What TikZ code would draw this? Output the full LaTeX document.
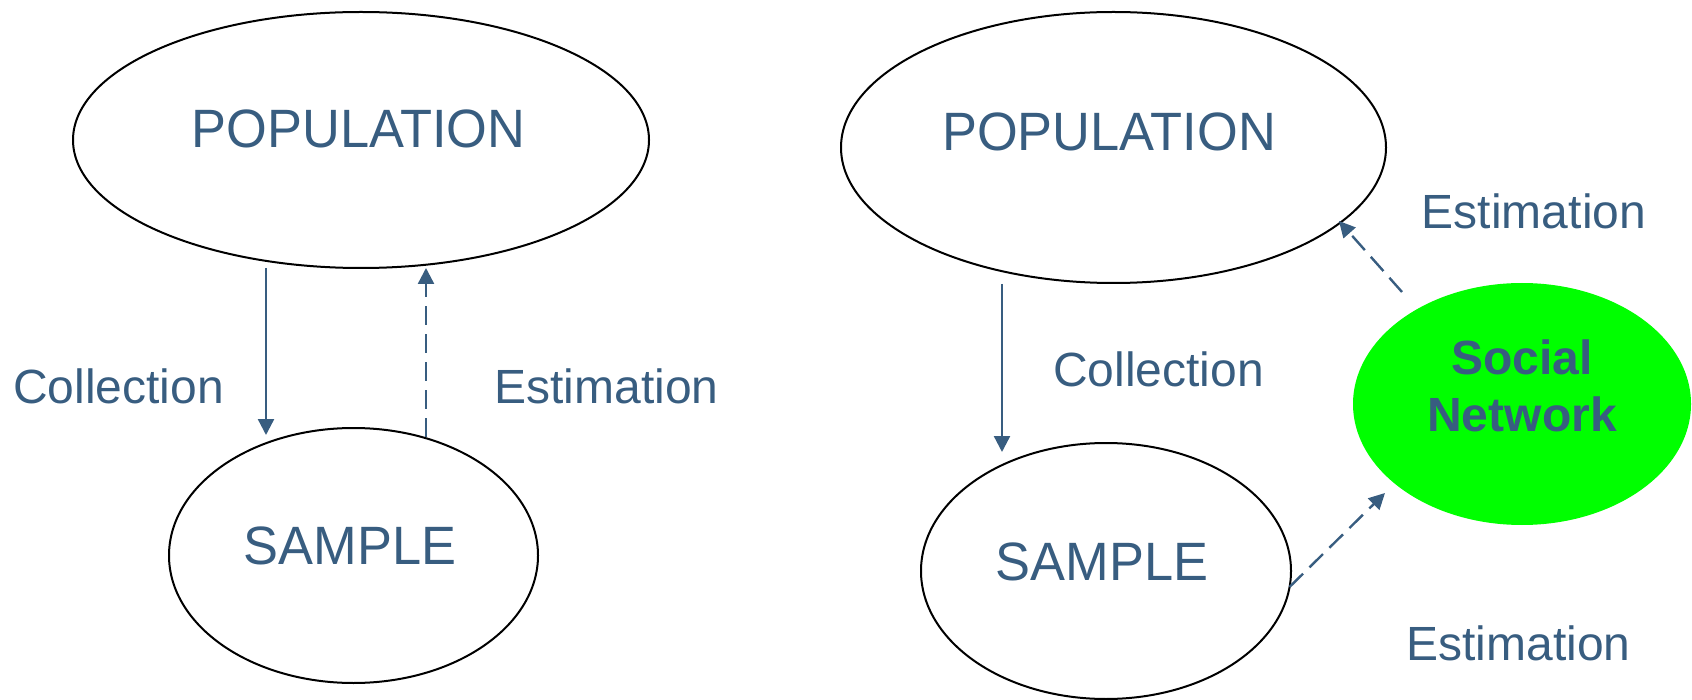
\documentclass[tikz,border=0pt]{standalone}
\usepackage{fontspec}
\setmainfont{Liberation Sans}
\newfontfamily\bigfont{Liberation Sans}[FakeStretch=0.97]
\usetikzlibrary{shapes.geometric,arrows.meta,calc}
\definecolor{tc}{RGB}{56,93,128}
\definecolor{netgreen}{RGB}{0,255,0}
\tikzset{
  oval/.style={draw=black, line width=2pt, ellipse, inner sep=0pt},
  greenoval/.style={fill=netgreen, draw=none, ellipse, inner sep=0pt},
  lbl/.style={text=tc, font=\fontsize{48}{57}\selectfont, inner sep=0pt, anchor=base},
  biglbl/.style={text=tc, font=\bigfont\fontsize{54}{60}\selectfont, inner sep=0pt, anchor=base},
  arr/.style={draw=tc, line width=2.4pt, -{Triangle[length=16pt,width=16pt]}},
  dasharr/.style={arr, dash pattern=on 19pt off 9pt}
}
\begin{document}
\begin{tikzpicture}[x=1pt,y=-1pt]
\useasboundingbox (0,0) rectangle (1692,700);
% ellipses
\node[oval, minimum width=576pt, minimum height=256pt] (popL) at (361,140) {};
\node[oval, minimum width=369pt, minimum height=255pt] (sampL) at (353.5,555.5) {};
\node[oval, minimum width=545pt, minimum height=271pt] (popR) at (1113.5,147.5) {};
\node[oval, minimum width=370pt, minimum height=256pt] (sampR) at (1106,571) {};
\node[greenoval, minimum width=338pt, minimum height=242pt] (soc) at (1522,404) {};
% texts
\node[biglbl] (tPopL) at (358.5,148) {POPULATION};
\node[biglbl] (tSampL) at (350,564) {SAMPLE};
\node[biglbl] (tPopR) at (1109,151) {POPULATION};
\node[biglbl] (tSampR) at (1102,580) {SAMPLE};
\node[lbl] (tColL) at (118.5,403) {Collection};
\node[lbl] (tEstL) at (606.5,403) {Estimation};
\node[lbl] (tColR) at (1158.5,387) {Collection};
\node[lbl] (tEstR1) at (1534,229) {Estimation};
\node[lbl] (tEstR2) at (1518.5,660) {Estimation};
\node[text=tc, font=\bfseries\fontsize{48}{57}\selectfont, align=center, inner sep=0pt] (tSoc) at (1522,386.3) {Social\\Network};
% connector ends
\coordinate (aColL1) at ($(popL.center)+(-95,128)$);
\coordinate (aColL2) at ($(sampL.center)+(-87.5,-120.5)$);
\coordinate (aEstL1) at ($(sampL.center)+(72.5,-118.5)$);
\coordinate (aEstL2) at ($(popL.center)+(65,128)$);
\coordinate (aColR1) at ($(popR.center)+(-111.5,136.5)$);
\coordinate (aColR2) at ($(sampR.center)+(-104,-119)$);
\coordinate (aEstR1a) at ($(soc.center)+(-120,-112)$);
\coordinate (aEstR1b) at ($(popR.center)+(225.5,73.5)$);
\coordinate (aEstR2a) at ($(sampR.center)+(183.5,16)$);
\coordinate (aEstR2b) at ($(soc.center)+(-137,89)$);
% connectors
\draw[arr] (aColL1) -- (aColL2);
\draw[dasharr] (aEstL1) -- (aEstL2);
\draw[arr] (aColR1) -- (aColR2);
\draw[dasharr] (aEstR1a) -- (aEstR1b);
\draw[dasharr] (aEstR2a) -- (aEstR2b);
\end{tikzpicture}
\end{document}
